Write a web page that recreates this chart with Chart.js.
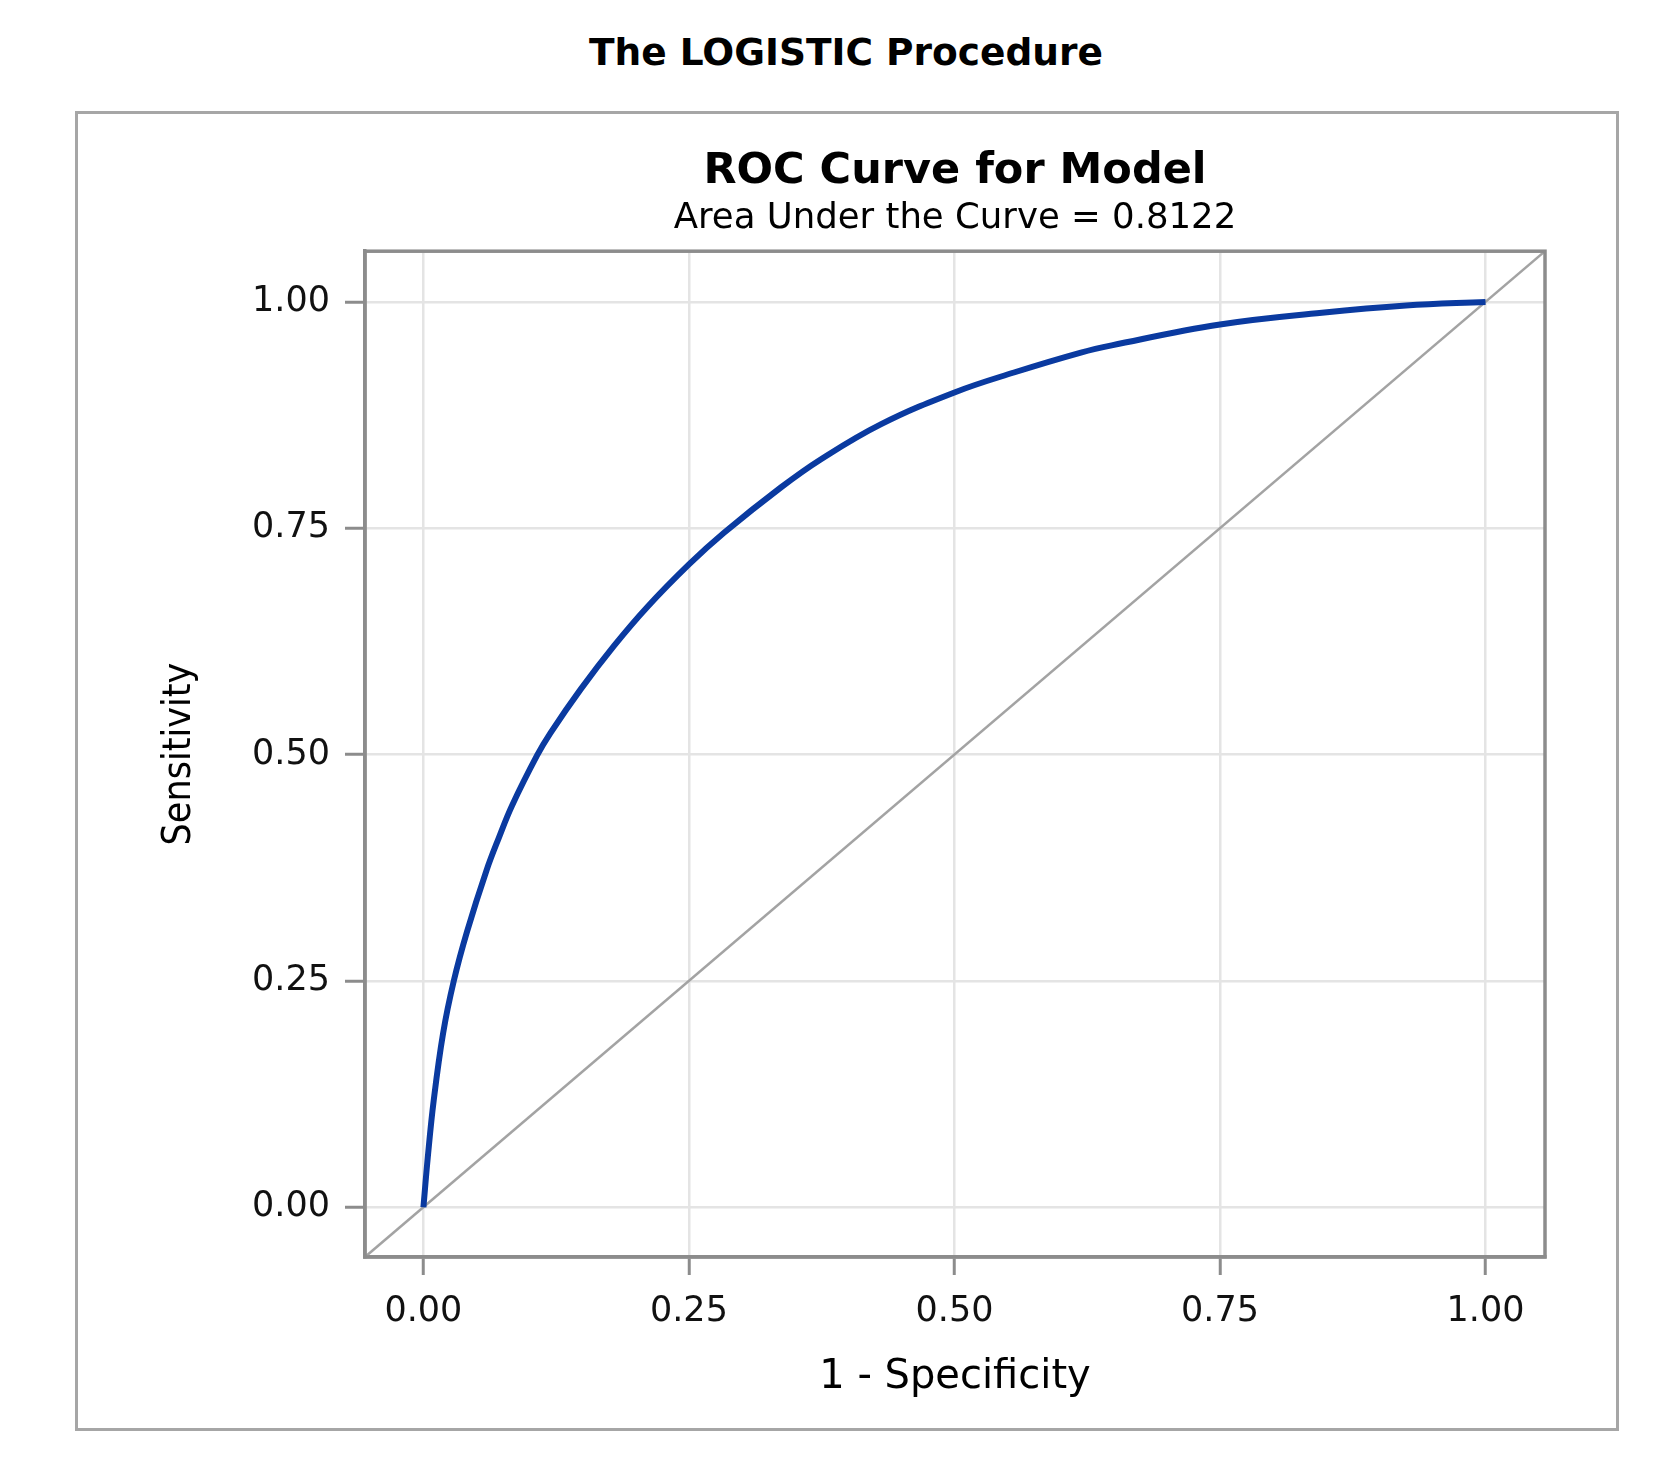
<!DOCTYPE html>
<html>
<head>
<meta charset="utf-8">
<title>ROC Curve for Model</title>
<script src="https://cdn.jsdelivr.net/npm/chart.js@4.4.1/dist/chart.umd.min.js"></script>
<style>
  body { margin: 0; background: #fff; }
  #page { position: relative; width: 1655px; height: 1458px; overflow: hidden; }
  #proc {
    position: absolute; left: 846px; top: 34px; transform: translateX(-50%);
    font: bold 37.5px "DejaVu Sans", sans-serif; line-height: 37px; color: #000; white-space: nowrap;
  }
  #frame {
    position: absolute; left: 75px; top: 111px; width: 1538px; height: 1314px;
    border: 3px solid #a6a6a6;
  }
  #roc { position: absolute; left: 0; top: 0; }
</style>
</head>
<body>
<div id="page">
  <div id="proc">The LOGISTIC Procedure</div>
  <div id="frame"></div>
  <canvas id="roc" width="1655" height="1458"></canvas>
</div>
<script>
// ROC curve: 1 - specificity and sensitivity
const fpr  = [0, 0.0041, 0.0097, 0.0185, 0.0286, 0.0412, 0.0594, 0.071, 0.0836, 0.107, 0.1197, 0.148,
              0.1794, 0.2108, 0.25, 0.283, 0.3365, 0.374, 0.431, 0.5, 0.556, 0.619, 0.648, 0.75, 0.846, 0.925, 1.0];
const sens = [0, 0.055, 0.118, 0.192, 0.25, 0.305, 0.372, 0.408, 0.444, 0.499, 0.524, 0.572,
              0.620, 0.663, 0.710, 0.745, 0.795, 0.826, 0.865, 0.900, 0.922, 0.944, 0.952, 0.975, 0.988, 0.996, 1.0];
const tickValues = [0, 0.25, 0.5, 0.75, 1.0];
const axisMin = -0.055;
const axisMax = 1.056;
// chance line runs corner to corner
const chanceX = [axisMin, axisMax];
const chanceY = [axisMin, axisMax];

const font = '"DejaVu Sans", sans-serif';
const axisGray = '#8c8c8c';

const toPoints = (xs, ys) => xs.map((x, i) => ({ x: x, y: ys[i] }));
const setTicks = scale => { scale.ticks = tickValues.map(v => ({ value: v })); };

const frameBox = {
  id: 'frameBox',
  afterDraw(chart) {
    const a = chart.chartArea;
    const c = chart.ctx;
    c.save();
    c.strokeStyle = axisGray;
    c.lineWidth = 3.5;
    c.strokeRect(a.left, a.top, a.right - a.left, a.bottom - a.top);
    c.restore();
  }
};

new Chart(document.getElementById('roc'), {
  type: 'scatter',
  data: {
    datasets: [
      {
        label: 'ROC',
        data: toPoints(fpr, sens),
        showLine: true,
        borderColor: '#0a3aa0',
        borderWidth: 6,
        pointRadius: 0,
        tension: 0.4,
        order: 1
      },
      {
        label: 'Chance',
        data: toPoints(chanceX, chanceY),
        showLine: true,
        borderColor: '#a3a3a3',
        borderWidth: 2.5,
        pointRadius: 0,
        order: 2
      }
    ]
  },
  options: {
    responsive: false,
    animation: false,
    devicePixelRatio: 1,
    layout: { padding: { left: 0, right: 110, top: 0, bottom: 0 } },
    plugins: {
      legend: { display: false },
      tooltip: { enabled: false },
      title: {
        display: true,
        text: 'ROC Curve for Model',
        fullSize: false,
        color: '#000',
        font: { family: font, size: 43, weight: 'bold', lineHeight: 1.2 },
        padding: { top: 146, bottom: 0 }
      },
      subtitle: {
        display: true,
        text: 'Area Under the Curve = 0.8122',
        fullSize: false,
        color: '#000',
        font: { family: font, size: 35.5, lineHeight: 1.2 },
        padding: { top: 0, bottom: 11 }
      }
    },
    scales: {
      x: {
        type: 'linear',
        min: axisMin,
        max: axisMax,
        afterBuildTicks: setTicks,
        afterFit: s => { s.height = 201; },
        grid: { color: '#e4e4e4', lineWidth: 2.5, tickColor: axisGray, tickWidth: 3, tickLength: 18 },
        border: { color: axisGray, width: 3.5 },
        ticks: {
          padding: 16, color: '#111', maxRotation: 0,
          font: { family: font, size: 35 },
          callback: v => v.toFixed(2)
        },
        title: {
          display: true, text: '1 - Specificity', color: '#000',
          font: { family: font, size: 40 },
          padding: { top: 0, bottom: 56 }
        }
      },
      y: {
        type: 'linear',
        min: axisMin,
        max: axisMax,
        afterBuildTicks: setTicks,
        afterFit: s => { s.width = 365; },
        grid: { color: '#e4e4e4', lineWidth: 2.5, tickColor: axisGray, tickWidth: 3, tickLength: 20 },
        border: { color: axisGray, width: 3.5 },
        ticks: {
          padding: 15, color: '#111',
          font: { family: font, size: 35 },
          callback: v => v.toFixed(2)
        },
        title: {
          display: true, text: 'Sensitivity', color: '#000',
          font: { family: '"DejaVu Sans Condensed", "DejaVu Sans", sans-serif', size: 39 },
          padding: { top: 156, bottom: 0 }
        }
      }
    }
  },
  plugins: [frameBox]
});
</script>
</body>
</html>
